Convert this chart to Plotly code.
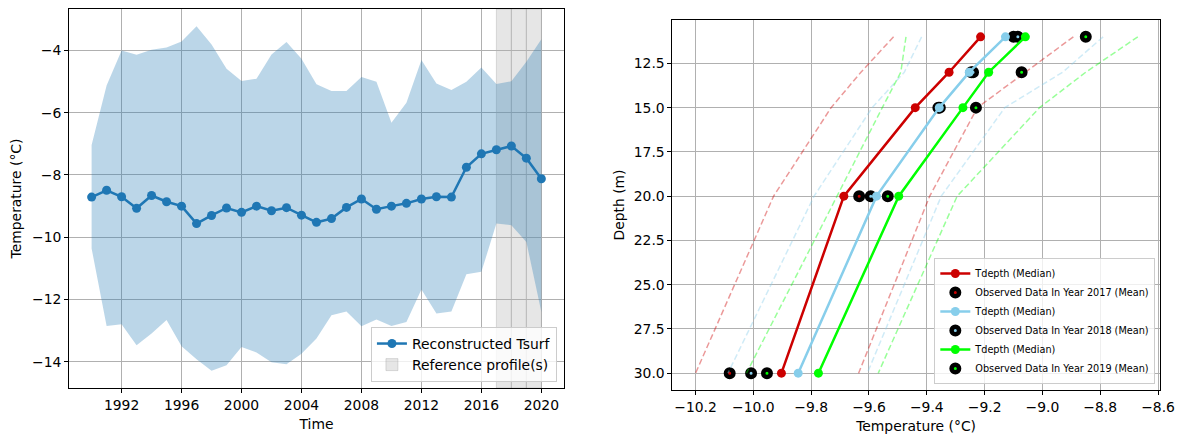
import plotly.graph_objects as go

# ---------------- Left panel data ----------------
years = list(range(1990, 2021))
tsurf = [-8.71, -8.49, -8.70, -9.07, -8.66, -8.86, -9.00, -9.56, -9.30, -9.06,
         -9.20, -9.00, -9.15, -9.05, -9.29, -9.52, -9.40, -9.04, -8.77, -9.10,
         -9.00, -8.91, -8.77, -8.70, -8.71, -7.75, -7.32, -7.19, -7.07, -7.46,
         -8.12]
tsurf_upper = [-7.04, -5.13, -4.00, -4.14, -3.98, -3.91, -3.71, -3.22, -3.81, -4.59,
               -4.98, -4.91, -4.13, -3.73, -4.27, -5.09, -5.30, -5.30, -4.85, -5.01,
               -6.32, -5.68, -4.31, -5.06, -5.27, -5.01, -4.55, -5.08, -4.99, -4.36,
               -3.64]
tsurf_lower = [-10.36, -12.85, -12.79, -13.47, -13.09, -12.66, -13.50, -13.92, -14.29, -14.11,
               -13.52, -13.70, -14.01, -14.08, -13.74, -13.25, -12.50, -12.38, -12.86, -12.64,
               -12.85, -12.72, -11.68, -12.45, -12.38, -11.19, -11.11, -9.56, -9.61, -10.15,
               -12.40]
ref_years = [2017, 2018, 2019]

# ---------------- Right panel data ----------------
depths = [11, 13, 15, 20, 30]
profile_years = [2017, 2018, 2019]
profile_colors = ["#cc0000", "#87ceeb", "#00ff00"]
dash_colors = ["rgba(204,0,0,0.4)", "rgba(135,206,235,0.4)", "rgba(0,255,0,0.4)"]
median = {
    2017: [-9.214, -9.323, -9.440, -9.687, -9.903],
    2018: [-9.128, -9.253, -9.357, -9.574, -9.845],
    2019: [-9.059, -9.186, -9.275, -9.497, -9.775],
}
observed = {
    2017: [-9.100, -9.246, -9.360, -9.634, -10.082],
    2018: [-9.085, -9.240, -9.355, -9.594, -10.008],
    2019: [-8.850, -9.072, -9.230, -9.535, -9.953],
}
lower_bound = {
    2017: [-9.515, -9.628, -9.731, -9.930, -10.200],
    2018: [-9.418, -9.478, -9.589, -9.790, -10.088],
    2019: [-9.472, -9.490, -9.554, -9.710, -10.024],
}
upper_bound = {
    2017: [-8.893, -9.060, -9.225, -9.390, -9.636],
    2018: [-8.790, -8.930, -9.130, -9.350, -9.606],
    2019: [-8.670, -8.850, -9.010, -9.295, -9.568],
}

FONT = "DejaVu Sans"
FS = 13.9
W, H = 1196, 434
C0 = "#1f77b4"

fig = go.Figure()

# band
fig.add_trace(go.Scatter(x=years, y=tsurf_upper, mode="lines", line=dict(width=0),
                         showlegend=False, hoverinfo="skip", xaxis="x", yaxis="y"))
fig.add_trace(go.Scatter(x=years, y=tsurf_lower, mode="lines", line=dict(width=0),
                         fill="tonexty", fillcolor="rgba(31,119,180,0.3)",
                         showlegend=False, hoverinfo="skip", xaxis="x", yaxis="y"))
fig.add_trace(go.Scatter(x=years, y=tsurf, mode="lines+markers", name="Reconstructed Tsurf",
                         line=dict(color=C0, width=2.5), marker=dict(color=C0, size=9),
                         xaxis="x", yaxis="y", legend="legend", legendrank=1))

# right panel
for i, yr in enumerate(profile_years):
    col = profile_colors[i]
    for bound in (lower_bound[yr], upper_bound[yr]):
        fig.add_trace(go.Scatter(x=bound, y=depths, mode="lines",
                                 line=dict(color=dash_colors[i], width=1.5, dash="6px,3px"),
                                 showlegend=False, hoverinfo="skip",
                                 xaxis="x2", yaxis="y2"))
    fig.add_trace(go.Scatter(x=observed[yr], y=depths, mode="markers",
                             name=f"Observed Data In Year {yr} (Mean)",
                             marker=dict(color=col, size=7.5, line=dict(color="black", width=4.5)),
                             xaxis="x2", yaxis="y2", legend="legend2", legendrank=2 * i + 2))
    fig.add_trace(go.Scatter(x=median[yr], y=depths, mode="lines+markers",
                             name="Tdepth (Median)",
                             line=dict(color=col, width=2.5), marker=dict(color=col, size=9),
                             xaxis="x2", yaxis="y2", legend="legend2", legendrank=2 * i + 1))

shapes = []
for k, ry in enumerate(ref_years):
    shapes.append(dict(type="rect", xref="x", yref="y domain", x0=ry, x1=ry + 1, y0=0, y1=1,
                       fillcolor="rgba(128,128,128,0.2)",
                       line=dict(color="rgba(128,128,128,0.25)", width=1),
                       layer="below", showlegend=(k == 0), name="Reference profile(s)",
                       legend="legend", legendrank=2))

axis_common = dict(showgrid=True, gridcolor="#b0b0b0", gridwidth=1, zeroline=False,
                   showline=True, linecolor="black", linewidth=1, mirror=True,
                   ticks="outside", ticklen=4, tickcolor="black",
                   tickfont=dict(family=FONT, size=FS, color="black"))

fig.update_layout(
    width=W, height=H,
    margin=dict(l=0, r=0, t=0, b=0),
    paper_bgcolor="white", plot_bgcolor="white",
    font=dict(family=FONT, color="black"),
    shapes=shapes,
    xaxis=dict(domain=[70 / W, 571 / W], range=[1988.5, 2021.5], anchor="y",
               tickmode="array", tickvals=list(range(1992, 2021, 4)),
               title=dict(text="Time", font=dict(family=FONT, size=FS), standoff=7),
               **axis_common),
    yaxis=dict(domain=[(H - 388) / H, (H - 9) / H], range=[-14.84, -2.67], anchor="x",
               tickmode="array", tickvals=[-14, -12, -10, -8, -6, -4],
               title=dict(text="Temperature (°C)", font=dict(family=FONT, size=FS), standoff=7),
               **axis_common),
    xaxis2=dict(domain=[681 / W, 1174.5 / W], range=[-10.28, -8.594], anchor="y2",
                tickmode="array", tickvals=[-10.2, -10.0, -9.8, -9.6, -9.4, -9.2, -9.0, -8.8, -8.6],
                tickformat=".1f",
                title=dict(text="Temperature (°C)", font=dict(family=FONT, size=FS), standoff=7),
                **axis_common),
    yaxis2=dict(domain=[(H - 390) / H, (H - 20) / H], range=[30.95, 10.05], anchor="x2",
                tickmode="array", tickvals=[12.5, 15.0, 17.5, 20.0, 22.5, 25.0, 27.5, 30.0],
                tickformat=".1f",
                title=dict(text="Depth (m)", font=dict(family=FONT, size=FS), standoff=5),
                **axis_common),
    legend=dict(x=564 / W, y=(H - 382) / H, xanchor="right", yanchor="bottom",
                bgcolor="rgba(255,255,255,0.8)", bordercolor="#cccccc", borderwidth=1,
                font=dict(family=FONT, size=FS, color="black"), tracegroupgap=0,
                traceorder="normal"),
    legend2=dict(x=1170 / W, y=(H - 384) / H, xanchor="right", yanchor="bottom",
                 bgcolor="rgba(255,255,255,0.8)", bordercolor="#cccccc", borderwidth=1,
                 font=dict(family=FONT, size=9.7, color="black"), tracegroupgap=0,
                 traceorder="normal"),
    showlegend=True,
)

fig.write_html("out.html")
